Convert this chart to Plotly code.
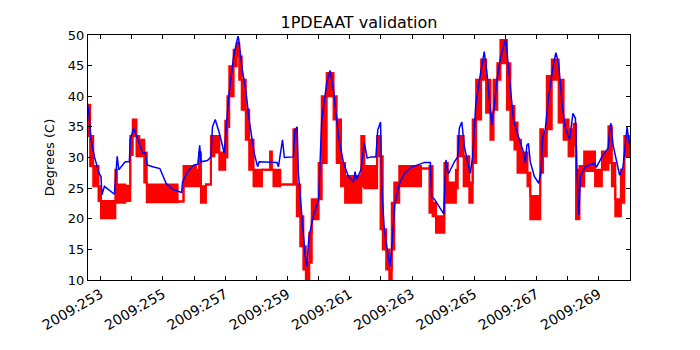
import plotly.graph_objects as go

# ---- data (day of year 2009, degrees C) ----
# red: measured telemetry, shown as quantised band (segment start time, low level, high level)
red_t = [252.58, 252.66, 252.76, 252.93, 253.01, 253.47, 253.52, 253.79, 253.95, 254.03,
         254.15, 254.24, 254.40, 254.48, 255.47, 255.66, 256.06, 256.16, 256.22, 256.38,
         256.54, 256.65, 256.81, 257.00, 257.07, 257.13, 257.27, 257.37, 257.45, 257.53,
         257.66, 257.77, 257.91, 258.18, 258.44, 258.50, 258.55, 258.77, 259.19, 259.30,
         259.41, 259.51, 259.59, 259.70, 259.78, 260.00, 260.10, 260.26, 260.48, 260.58,
         260.72, 260.85, 261.37, 261.47, 261.88, 261.99, 262.06, 262.17, 262.27, 262.35,
         262.43, 262.59, 263.29, 263.56, 263.66, 263.77, 264.04, 264.15, 264.41, 264.47,
         264.66, 264.84, 264.95, 265.06, 265.22, 265.38, 265.52, 265.62, 265.74, 265.84,
         266.05, 266.16, 266.29, 266.39, 266.50, 266.71, 266.80, 267.12, 267.21, 267.33,
         267.49, 267.71, 267.87, 268.03, 268.19, 268.27, 268.38, 268.53, 268.88, 269.10,
         269.31, 269.42, 269.53, 269.71, 269.82, 270.02]
red_lo = [33.5, 28.6, 25.3, 22.9, 20.1, 22.6, 22.6, 22.9, 30.4, 33.5,
          30.2, 30.2, 25.9, 22.7, 22.8, 25.3, 25.3, 28.0, 22.6, 25.6,
          30.2, 30.8, 28.0, 30.0, 35.0, 40.0, 44.9, 46.5, 42.7, 37.8,
          32.9, 28.0, 25.3, 28.0, 28.0, 28.0, 25.3, 25.6, 25.6, 20.4,
          15.5, 11.7, 9.5, 12.8, 19.9, 23.2, 29.1, 40.0, 36.2, 29.1,
          25.3, 22.6, 25.3, 25.0, 30.2, 18.3, 15.0, 11.7, 9.5, 15.0,
          22.6, 25.3, 28.2, 21.0, 20.4, 17.7, 22.6, 22.6, 25.0, 30.2,
          25.3, 22.6, 29.1, 36.2, 42.7, 37.3, 32.9, 37.8, 42.7, 45.4,
          37.8, 32.9, 31.3, 27.5, 27.5, 25.3, 19.9, 27.5, 30.2, 34.6,
          42.7, 35.7, 32.9, 30.2, 32.0, 19.9, 25.3, 27.8, 25.3, 28.0,
          29.1, 25.3, 20.4, 22.6, 30.2, 30.2]
red_hi = [38.6, 33.5, 28.6, 25.3, 22.9, 28.0, 25.6, 25.4, 33.5, 36.2,
          33.5, 32.9, 30.8, 25.6, 22.8, 28.6, 28.0, 30.8, 25.3, 25.6,
          33.5, 33.5, 30.8, 36.0, 40.0, 44.9, 47.6, 48.7, 46.5, 42.7,
          37.8, 32.9, 28.0, 28.0, 31.0, 28.0, 28.0, 25.6, 34.6, 25.6,
          20.4, 15.5, 12.8, 17.7, 23.2, 29.1, 40.0, 43.8, 40.0, 36.2,
          29.1, 27.0, 33.5, 28.6, 33.5, 30.2, 18.3, 15.0, 11.7, 22.6,
          25.9, 28.6, 28.2, 28.6, 22.6, 20.4, 29.1, 25.9, 28.0, 33.5,
          30.2, 25.9, 36.2, 42.7, 46.0, 42.7, 37.3, 42.7, 45.4, 49.2,
          45.4, 38.4, 35.7, 32.9, 30.8, 27.5, 23.7, 34.6, 34.0, 43.3,
          46.0, 42.7, 36.2, 34.6, 35.5, 28.0, 28.6, 31.0, 28.0, 31.0,
          35.1, 29.1, 23.2, 28.0, 33.5, 33.5]

# blue: model prediction
blue_t = [252.58, 252.62, 252.69, 252.80, 252.95, 253.01, 253.04, 253.12, 253.44, 253.49,
          253.53, 253.58, 253.79, 253.92, 253.95, 254.06, 254.19, 254.35, 254.43, 254.49,
          254.67, 254.90, 255.10, 255.31, 255.60, 255.63, 255.79, 256.00, 256.12, 256.18,
          256.22, 256.43, 256.54, 256.59, 256.68, 256.81, 256.97, 257.11, 257.27, 257.41,
          257.43, 257.55, 257.66, 257.77, 257.93, 258.04, 258.09, 258.66, 258.71, 258.84,
          258.90, 259.19, 259.24, 259.31, 259.35, 259.46, 259.57, 259.62, 259.69, 259.84,
          260.00, 260.10, 260.26, 260.37, 260.48, 260.64, 260.80, 260.96, 261.12, 261.17,
          261.22, 261.36, 261.47, 261.56, 261.68, 261.84, 261.90, 261.99, 262.03, 262.11,
          262.22, 262.29, 262.36, 262.45, 262.60, 262.76, 262.97, 263.24, 263.40, 263.59,
          263.63, 263.72, 264.02, 264.09, 264.17, 264.36, 264.47, 264.52, 264.60, 264.68,
          264.87, 264.95, 265.05, 265.20, 265.32, 265.41, 265.56, 265.64, 265.73, 265.84,
          266.00, 266.03, 266.14, 266.26, 266.42, 266.58, 266.64, 266.69, 266.74, 266.80,
          266.93, 267.07, 267.14, 267.20, 267.28, 267.39, 267.53, 267.62, 267.71, 267.82,
          267.92, 268.06, 268.17, 268.25, 268.30, 268.36, 268.41, 268.57, 268.86, 268.92,
          269.10, 269.30, 269.35, 269.39, 269.46, 269.57, 269.67, 269.78, 269.86, 269.91,
          269.96, 270.02]
blue_v = [38.5, 37.3, 32.9, 30.1, 27.4, 26.9, 23.9, 25.3, 24.0, 28.0,
          30.2, 28.0, 29.3, 29.3, 32.9, 34.8, 32.9, 30.7, 30.8, 28.8,
          28.5, 28.2, 25.8, 24.8, 24.3, 26.0, 27.7, 28.8, 28.9, 32.0,
          29.3, 29.5, 30.1, 35.0, 36.2, 34.0, 30.7, 39.9, 46.5, 49.8,
          49.4, 44.3, 41.0, 36.1, 30.7, 28.5, 29.3, 29.2, 28.5, 32.9,
          30.0, 30.1, 34.5, 35.0, 27.4, 20.3, 13.8, 12.2, 17.1, 20.6,
          23.1, 36.1, 42.1, 44.2, 41.0, 33.4, 29.1, 26.9, 26.0, 27.7,
          26.4, 28.0, 32.4, 29.9, 30.1, 30.1, 34.5, 35.8, 25.2, 18.2,
          14.4, 12.1, 16.0, 22.5, 25.8, 27.4, 28.4, 28.9, 29.2, 29.2,
          23.6, 23.2, 20.8, 29.6, 27.3, 29.3, 30.1, 34.8, 35.8, 31.8,
          27.4, 30.1, 38.8, 43.7, 47.3, 43.7, 35.3, 38.3, 42.7, 46.2,
          49.2, 48.4, 42.1, 36.1, 33.4, 30.9, 29.1, 32.0, 32.3, 29.3,
          26.9, 25.8, 27.4, 33.4, 34.5, 39.9, 44.8, 47.1, 45.4, 38.8,
          35.0, 32.9, 37.2, 36.4, 28.0, 20.6, 26.9, 28.5, 29.1, 28.4,
          30.1, 31.5, 34.5, 35.6, 32.0, 29.1, 27.1, 28.5, 33.4, 35.0,
          32.9, 31.5]

tick_days = list(range(253, 270))
tick_labels = [f"2009:{d}" if d % 2 == 1 else "" for d in tick_days]
y_ticks = [10, 15, 20, 25, 30, 35, 40, 45, 50]

fig = go.Figure()
fig.add_trace(go.Scatter(x=red_t, y=red_lo, mode="lines",
                         line=dict(color="#ff0000", width=2, shape="hv"),
                         showlegend=False, hoverinfo="skip"))
fig.add_trace(go.Scatter(x=red_t, y=red_hi, mode="lines",
                         line=dict(color="#ff0000", width=2, shape="hv"),
                         fill="tonexty", fillcolor="#ff0000",
                         showlegend=False, hoverinfo="skip"))
fig.add_trace(go.Scatter(x=blue_t, y=blue_v, mode="lines",
                         line=dict(color="#0000ff", width=1.5),
                         showlegend=False))

font = "DejaVu Sans, sans-serif"
fig.update_layout(
    width=700, height=350,
    margin=dict(l=88, r=70, t=35, b=70),
    paper_bgcolor="white", plot_bgcolor="white",
    font=dict(family=font, size=13, color="black"),
    title=dict(text="1PDEAAT validation", x=0.5, xref="paper", xanchor="center",
               y=1, yref="container", yanchor="top", pad=dict(t=17),
               font=dict(family=font, size=16, color="black")),
    showlegend=False,
)
fig.update_xaxes(range=[252.592, 270.003], tickmode="array", tickvals=tick_days,
                 ticktext=tick_labels, tickangle=-30, ticks="inside", ticklen=4,
                 tickcolor="black", showline=True, linecolor="black", linewidth=1,
                 mirror="ticks", showgrid=False, zeroline=False,
                 tickfont=dict(size=14, family=font))
fig.update_yaxes(range=[10, 50], tickmode="array", tickvals=y_ticks,
                 ticks="inside", ticklen=4, tickcolor="black", showline=True,
                 linecolor="black", linewidth=1, mirror="ticks", showgrid=False,
                 zeroline=False, tickfont=dict(size=13, family=font),
                 title=dict(text="Degrees (C)", standoff=10,
                            font=dict(size=13, family=font)))

fig.write_html("out.html")
